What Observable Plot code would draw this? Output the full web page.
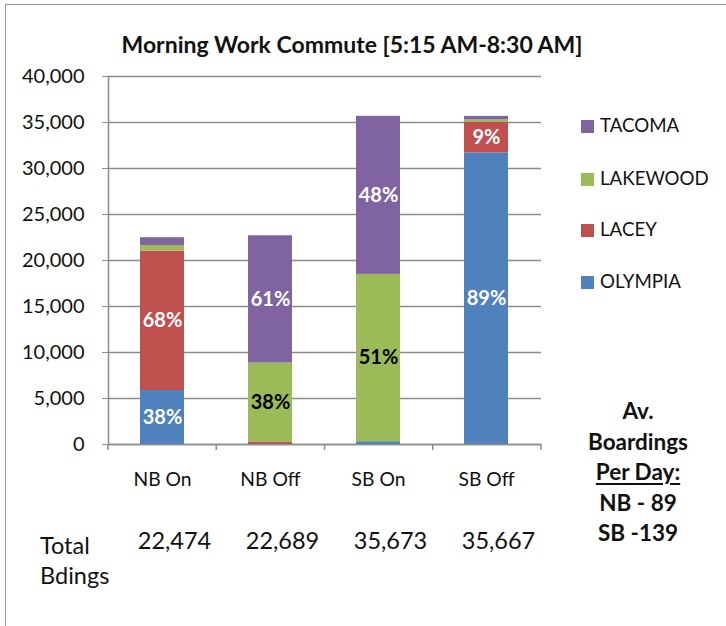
<!DOCTYPE html>
<html>
<head>
<meta charset="utf-8">
<script src="https://cdn.jsdelivr.net/npm/d3@7"></script>
<script src="https://cdn.jsdelivr.net/npm/@observablehq/plot@0.6"></script>
<style>
  html, body { margin: 0; padding: 0; background: #fff; }
  #wrap { position: relative; width: 726px; height: 626px; overflow: hidden; font-family: Lato, "Open Sans", sans-serif; color: #111; }
  #border { position: absolute; left: 5px; top: 4px; width: 800px; height: 700px; border-left: 1.5px solid #9a9a9a; border-top: 1.5px solid #9a9a9a; }
  #chart { position: absolute; left: 0; top: 0; }
  .abs { position: absolute; white-space: nowrap; }
  #title { left: 0; width: 704px; top: 30px; text-align: center; font-weight: bold; font-size: 23px; line-height: 28px; }
  .leg { position: absolute; left: 581px; font-size: 18.7px; line-height: 22px; }
  .leg span.sw { display: inline-block; width: 13px; height: 13px; margin-right: 6px; vertical-align: -1px; }
  #note { left: 558px; width: 160px; top: 396px; text-align: center; font-weight: bold; font-size: 22.5px; line-height: 30.5px; }
  #note u { text-decoration: underline; text-underline-offset: 3px; }
  #tot { left: 40px; top: 530px; font-size: 23.5px; line-height: 30px; }
</style>
</head>
<body>
<div id="wrap">
  <div id="border"></div>
  <div id="chart"></div>
  <div id="title" class="abs"></div>
  <div id="legend"></div>
  <div id="note" class="abs"></div>
  <div id="tot" class="abs"></div>
</div>
<script>
// ---- data ----
const categories = ["NB On", "NB Off", "SB On", "SB Off"];
const cities = ["OLYMPIA", "LACEY", "LAKEWOOD", "TACOMA"]; // stacked bottom to top
const cityColors = ["#4F81BD", "#C0504D", "#9BBB59", "#8064A2"];
const olympia  = [5870,     0,   300, 31700];
const lacey    = [15140,  230,     0,  3300];
const lakewood = [620,   8620, 18190,   280];
const tacoma   = [844,  13839, 17183,   387];
const olympiaLabels  = ["38%", "", "", "89%"];
const laceyLabels    = ["68%", "", "", "9%"];
const lakewoodLabels = ["", "38%", "51%", ""];
const tacomaLabels   = ["", "61%", "48%", ""];
const totals = ["22,474", "22,689", "35,673", "35,667"];
const yTicks = [0, 5000, 10000, 15000, 20000, 25000, 30000, 35000, 40000];
const legendOrder = ["TACOMA", "LAKEWOOD", "LACEY", "OLYMPIA"];
const titleText = "Morning Work Commute [5:15 AM-8:30 AM]";
const noteLines = ["Av.", "Boardings", "Per Day:", "NB - 89", "SB -139"];
const totalLabel = ["Total", "Bdings"];

// ---- build table ----
const seriesValues = [olympia, lacey, lakewood, tacoma];
const seriesLabels = [olympiaLabels, laceyLabels, lakewoodLabels, tacomaLabels];
const rows = [];
categories.forEach((cat, i) => {
  cities.forEach((city, j) => {
    rows.push({cat, city, value: seriesValues[j][i], label: seriesLabels[j][i]});
  });
});
const totalRows = categories.map((cat, i) => ({cat, text: totals[i]}));

const axisGray = "#8c8c8c";

const catTicks = (index, scales, values, dimensions) => {
  const {width, height, marginLeft, marginRight, marginBottom} = dimensions;
  const step = (width - marginLeft - marginRight) / categories.length;
  const g = d3.create("svg:g");
  for (let i = 0; i <= categories.length; i++) {
    const x = marginLeft + i * step;
    g.append("line")
      .attr("x1", x).attr("x2", x)
      .attr("y1", height - marginBottom).attr("y2", height - marginBottom + 6)
      .attr("stroke", axisGray).attr("stroke-width", 1.5);
  }
  return g.node();
};

const chart = Plot.plot({
  width: 726,
  height: 626,
  marginLeft: 108,
  marginRight: 185,
  marginTop: 76,
  marginBottom: 182,
  style: {fontFamily: "Lato, 'Open Sans', sans-serif", fontSize: "17px", color: "#111", background: "transparent"},
  x: {domain: categories, paddingInner: 0.59, paddingOuter: 0.295, label: null},
  y: {domain: [0, 40000], label: null},
  color: {domain: cities, range: cityColors},
  marks: [
    Plot.gridY(yTicks, {stroke: axisGray, strokeOpacity: 1, strokeWidth: 1.4}),
    Plot.barY(rows, {x: "cat", y: "value", fill: "city"}),
    Plot.text(rows, Plot.stackY({x: "cat", y: "value", text: d => d.city === "LAKEWOOD" ? "" : d.label, fill: "white", fontWeight: "bold", fontSize: 20})),
    Plot.text(rows, Plot.stackY({x: "cat", y: "value", text: d => d.city === "LAKEWOOD" ? d.label : "", fill: "black", fontWeight: "bold", fontSize: 20})),
    Plot.frame({anchor: "left", stroke: axisGray, strokeWidth: 1.5}),
    Plot.ruleY([0], {stroke: axisGray, strokeWidth: 1.5}),
    Plot.axisY({ticks: yTicks, tickFormat: d3.format(","), tickSize: 6, tickPadding: 18, stroke: axisGray, fontSize: 20, label: null}),
    Plot.axisX({tickSize: 0, tickPadding: 28, fontSize: 19.3, label: null}),
    catTicks,
    Plot.text(totalRows, {x: "cat", text: "text", frameAnchor: "bottom", dy: 104, dx: 12, fontSize: 23.5})
  ]
});
document.getElementById("chart").appendChild(chart);

// ---- title, legend, notes ----
document.getElementById("title").textContent = titleText;
const legendTops = [114, 167, 218, 270];
const legend = document.getElementById("legend");
legendOrder.forEach((name, k) => {
  const div = document.createElement("div");
  div.className = "leg";
  div.style.top = legendTops[k] + "px";
  const sw = document.createElement("span");
  sw.className = "sw";
  sw.style.background = cityColors[cities.indexOf(name)];
  div.appendChild(sw);
  div.appendChild(document.createTextNode(name));
  legend.appendChild(div);
});
const note = document.getElementById("note");
noteLines.forEach((t, k) => {
  const d = document.createElement("div");
  if (k === 2) { const u = document.createElement("u"); u.textContent = t; d.appendChild(u); }
  else d.textContent = t;
  note.appendChild(d);
});
const tot = document.getElementById("tot");
totalLabel.forEach(t => { const d = document.createElement("div"); d.textContent = t; tot.appendChild(d); });
</script>
</body>
</html>
